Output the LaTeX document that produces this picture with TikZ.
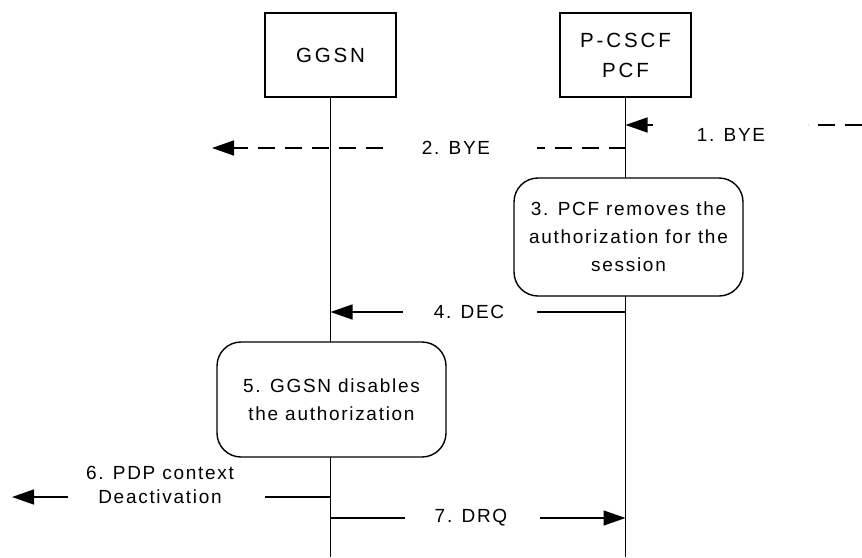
\documentclass[tikz,border=0pt]{standalone}
\usepackage{fontspec}
\setmainfont{Liberation Sans}[LetterSpace=9]
\newfontfamily\headfont{Liberation Sans}[LetterSpace=14]
\usetikzlibrary{arrows.meta}
\begin{document}
\begin{tikzpicture}[x=1pt,y=-1pt,
  every node/.style={font=\fontsize{19}{28}\selectfont, inner sep=0pt},
  entity/.style={draw, line width=1.4pt, minimum width=131pt, minimum height=84pt, align=center,
    font=\headfont\fontsize{20.5}{30}\selectfont},
  action/.style={draw, fill=white, line width=1.4pt, rounded corners=24pt, align=center},
  life/.style={line width=1.4pt},
  msg/.style={line width=1.4pt},
  dmsg/.style={line width=1.4pt, dash pattern=on 17pt off 10pt},
  tip/.style={-{Triangle[length=22pt,width=15pt]}}]
\useasboundingbox (0,0) rectangle (862,557);

% entities
\node[entity] (ggsn) at (330.5,55) {GGSN};
\node[entity] (pcscf) at (625.5,55) {P-CSCF\\PCF};

% lifelines
\coordinate (gEnd) at (330.5,557);
\coordinate (pEnd) at (625.5,557);
\draw[life] (ggsn.south) -- (gEnd);
\draw[life] (pcscf.south) -- (pEnd);

% 1. BYE
\coordinate (p1) at (625.5,125);
\coordinate (b1a) at (653,125);
\coordinate (b1b) at (808,125);
\coordinate (b1c) at (862,125);
\draw[msg, tip] (b1a) -- (p1);
\draw[dmsg] (b1c) -- (b1b);
\node (l1) at (731,135) {1. BYE};

% 2. BYE
\coordinate (p2) at (625.5,148);
\coordinate (b2a) at (537,148);
\coordinate (b2b) at (383,148);
\coordinate (b2c) at (212,148);
\draw[dmsg] (p2) -- (b2a);
\draw[dmsg, tip] (b2b) -- (b2c);
\node (l2) at (456,148) {2. BYE};

% 3. PCF action
\node[action, minimum width=229pt, minimum height=118pt] (act3) at (628.5,237)
  {3. PCF removes the\\authorization for the\\session};

% 4. DEC
\coordinate (p4) at (625.5,312);
\coordinate (g4) at (330.5,312);
\coordinate (b4a) at (537,312);
\coordinate (b4b) at (403,312);
\draw[msg] (p4) -- (b4a);
\draw[msg, tip] (b4b) -- (g4);
\node (l4) at (469,312) {4. DEC};

% 5. GGSN action
\node[action, minimum width=229pt, minimum height=115pt] (act5) at (331.5,399.5)
  {5. GGSN disables\\the authorization};

% 6. PDP context Deactivation
\coordinate (g6) at (330.5,497);
\coordinate (b6a) at (265,497);
\coordinate (b6b) at (68,497);
\coordinate (b6c) at (12,497);
\draw[msg] (g6) -- (b6a);
\draw[msg, tip] (b6b) -- (b6c);
\node[align=center, font=\fontsize{19}{24}\selectfont] (l6) at (160,485) {6. PDP context\\Deactivation};

% 7. DRQ
\coordinate (g7) at (330.5,518);
\coordinate (p7) at (625.5,518);
\coordinate (b7a) at (405,518);
\coordinate (b7b) at (540,518);
\draw[msg] (g7) -- (b7a);
\draw[msg, tip] (b7b) -- (p7);
\node (l7) at (471,518) {7. DRQ};
\end{tikzpicture}
\end{document}
